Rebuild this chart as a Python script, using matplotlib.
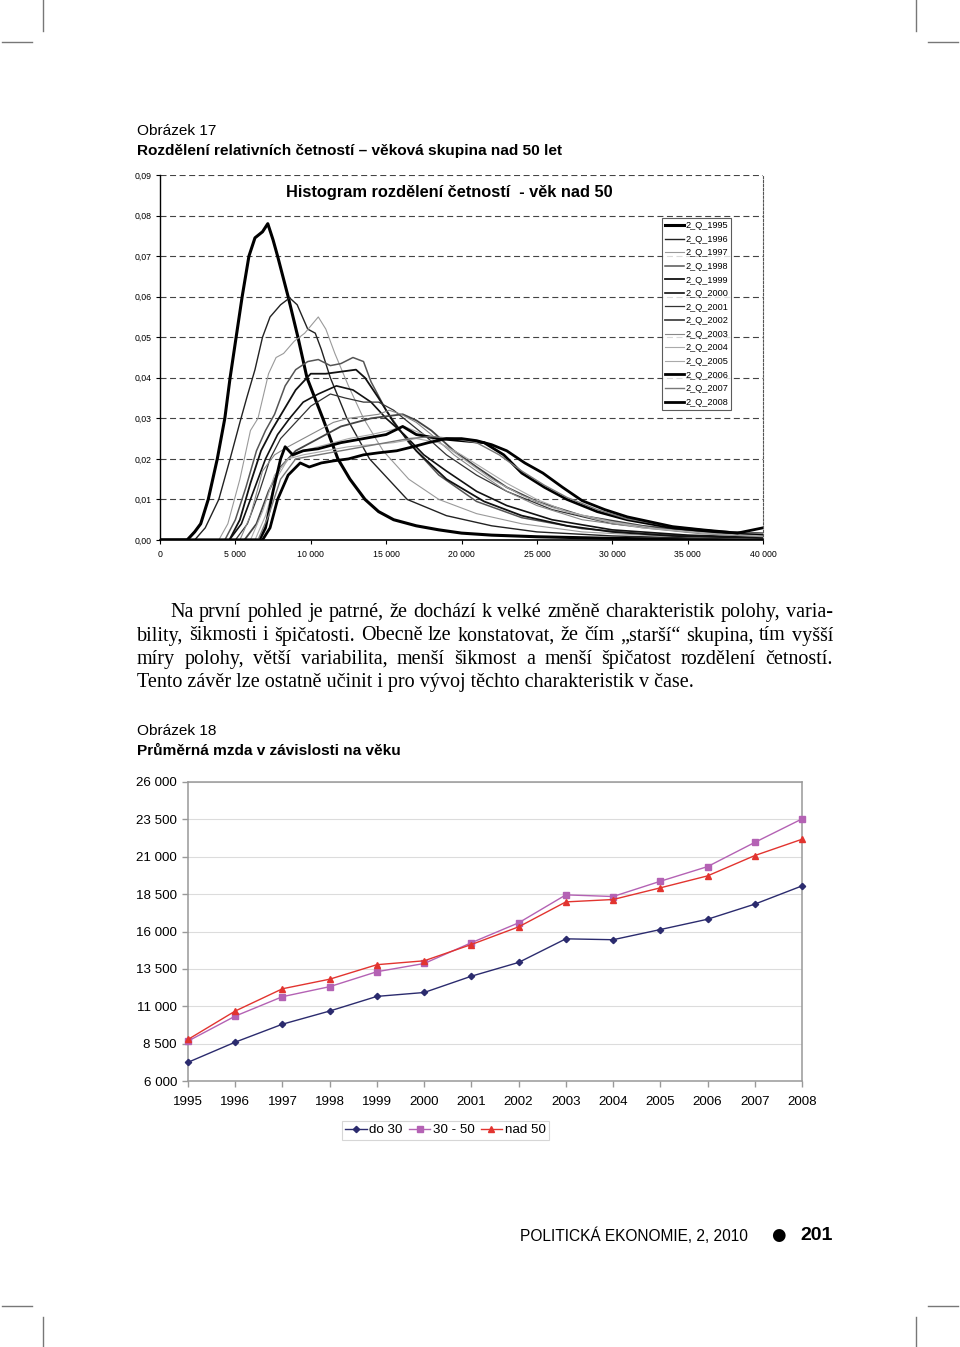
import matplotlib
matplotlib.use("Agg")
import matplotlib.pyplot as plt
from matplotlib.lines import Line2D

W, H = 960, 1347
plt.rcParams['font.family'] = ['Liberation Sans', 'DejaVu Sans']

# ---- Obrazek 17: relative frequencies by wage (CZK), one curve per year ----
x_1995 = [0, 1800, 2300, 2700, 3200, 3800, 4300, 4650, 5050, 5450, 5900, 6300, 6800, 7150, 7500, 7800,
          8500, 9150, 9750, 10800, 11800, 12600, 13600, 14500, 15500, 17000, 18500, 20000, 22000, 25000,
          30000, 35000, 40000]
y_1995 = [0, 0, 0.002, 0.004, 0.010, 0.020, 0.030, 0.040, 0.050, 0.060, 0.070, 0.0745, 0.076, 0.078, 0.074,
          0.070, 0.060, 0.050, 0.040, 0.030, 0.020, 0.015, 0.010, 0.007, 0.005, 0.0035, 0.0025, 0.0017,
          0.0012, 0.0008, 0.0004, 0.0002, 0.0001]
x_1996 = [0, 2300, 3000, 3900, 4650, 5300, 5750, 6300, 6800, 7300, 8000, 8600, 9100, 9800, 10300, 10700,
          11300, 12400, 13900, 16400, 19000, 22000, 25000, 30000, 35000, 40000]
y_1996 = [0, 0, 0.003, 0.010, 0.020, 0.029, 0.035, 0.042, 0.050, 0.055, 0.058, 0.0597, 0.058, 0.052, 0.051,
          0.047, 0.040, 0.030, 0.020, 0.010, 0.006, 0.0035, 0.002, 0.001, 0.0005, 0.0003]
x_1997 = [0, 3900, 4500, 5300, 6000, 6500, 7200, 7700, 8200, 8900, 9600, 10500, 11000, 11600, 12500, 13500,
          14800, 16500, 18500, 21000, 24000, 28000, 32000, 36000, 40000]
y_1997 = [0, 0, 0.004, 0.015, 0.027, 0.030, 0.041, 0.045, 0.046, 0.049, 0.051, 0.055, 0.052, 0.046, 0.038,
          0.030, 0.022, 0.015, 0.010, 0.0065, 0.004, 0.002, 0.0012, 0.0007, 0.0004]
x_1998 = [0, 4300, 5000, 5700, 6400, 7000, 7600, 8300, 9000, 9800, 10500, 11300, 12000, 12800, 13500, 14000,
          15000, 16500, 18500, 21000, 24000, 28000, 32000, 36000, 40000]
y_1998 = [0, 0, 0.005, 0.013, 0.022, 0.027, 0.031, 0.038, 0.042, 0.044, 0.0445, 0.043, 0.0435, 0.045, 0.044,
          0.039, 0.032, 0.024, 0.016, 0.0095, 0.0055, 0.0028, 0.0016, 0.0009, 0.0005]
x_1999 = [0, 4600, 5300, 6000, 6700, 7400, 8200, 9000, 10000, 11000, 12000, 13000, 13600, 14500, 15500,
          17000, 19000, 21500, 24000, 27000, 30000, 34000, 40000]
y_1999 = [0, 0, 0.005, 0.014, 0.022, 0.027, 0.032, 0.037, 0.041, 0.041, 0.0415, 0.042, 0.040, 0.035, 0.029,
          0.022, 0.015, 0.0095, 0.006, 0.0035, 0.002, 0.001, 0.0005]
x_2000 = [0, 4600, 5400, 6200, 7000, 7800, 8600, 9500, 10500, 11700, 12800, 14000, 15000, 16200, 17500,
          19000, 21000, 23000, 26000, 30000, 35000, 40000]
y_2000 = [0, 0, 0.004, 0.012, 0.020, 0.026, 0.030, 0.034, 0.036, 0.038, 0.037, 0.034, 0.030, 0.026, 0.021,
          0.017, 0.012, 0.0085, 0.005, 0.0025, 0.0012, 0.0006]
x_2001 = [0, 5000, 5800, 6600, 7300, 8000, 9000, 10000, 11300, 12300, 13500, 14500, 15500, 16500, 17500,
          19000, 21000, 23000, 26000, 30000, 35000, 40000]
y_2001 = [0, 0, 0.004, 0.012, 0.020, 0.025, 0.029, 0.033, 0.036, 0.035, 0.034, 0.034, 0.032, 0.029, 0.026,
          0.021, 0.016, 0.012, 0.0075, 0.004, 0.002, 0.001]
x_2002 = [0, 5600, 6400, 7200, 8000, 9000, 10000, 11000, 12000, 13000, 14000, 15000, 16100, 17000, 18000,
          19500, 21000, 23000, 25000, 28000, 32000, 36000, 40000]
y_2002 = [0, 0, 0.004, 0.012, 0.018, 0.022, 0.024, 0.026, 0.028, 0.029, 0.030, 0.0305, 0.031, 0.0295, 0.027,
          0.022, 0.018, 0.013, 0.0095, 0.006, 0.0035, 0.002, 0.001]
x_2003 = [0, 5300, 6000, 6800, 7600, 8500, 9500, 10500, 11500, 12500, 13500, 14500, 15200, 16000, 17000,
          18000, 19500, 21000, 23000, 25000, 28000, 32000, 36000, 40000]
y_2003 = [0, 0, 0.006, 0.017, 0.021, 0.023, 0.025, 0.027, 0.029, 0.030, 0.0305, 0.031, 0.032, 0.031, 0.029,
          0.026, 0.021, 0.017, 0.012, 0.0085, 0.005, 0.003, 0.0015, 0.0008]
x_2004 = [0, 6300, 7000, 7700, 8500, 9500, 11000, 12500, 14000, 15500, 17000, 18500, 20000, 21500, 23000,
          25000, 27000, 30000, 33000, 36000, 40000]
y_2004 = [0, 0, 0.006, 0.015, 0.020, 0.021, 0.022, 0.023, 0.0235, 0.024, 0.025, 0.024, 0.021, 0.0175, 0.014,
          0.010, 0.007, 0.0045, 0.0028, 0.0018, 0.001]
x_2005 = [0, 6000, 6800, 7600, 8500, 9500, 11000, 12500, 14000, 15200, 16200, 17500, 19000, 20500, 22000,
          24000, 26000, 29000, 32000, 36000, 40000]
y_2005 = [0, 0, 0.007, 0.016, 0.020, 0.022, 0.0235, 0.025, 0.026, 0.027, 0.028, 0.026, 0.023, 0.019, 0.015,
          0.011, 0.008, 0.005, 0.003, 0.0017, 0.001]
x_2006 = [0, 6600, 7000, 7500, 8000, 8300, 8800, 9500, 10500, 12000, 13500, 15000, 16100, 17000, 18500,
          20000, 21500, 22800, 24000, 25500, 27000, 29000, 31000, 34000, 37000, 40000]
y_2006 = [0, 0, 0.003, 0.012, 0.020, 0.023, 0.021, 0.022, 0.0225, 0.024, 0.025, 0.026, 0.028, 0.026, 0.025,
          0.0245, 0.024, 0.021, 0.0165, 0.013, 0.010, 0.007, 0.005, 0.003, 0.002, 0.0015]
x_2007 = [0, 6500, 7200, 8000, 9000, 10500, 12000, 13500, 15000, 16500, 18000, 19500, 21000, 22500, 24000,
          25500, 27000, 29000, 31000, 34000, 37000, 40000]
y_2007 = [0, 0, 0.006, 0.015, 0.020, 0.021, 0.022, 0.023, 0.024, 0.025, 0.0255, 0.025, 0.024, 0.021, 0.017,
          0.0135, 0.0105, 0.0075, 0.0052, 0.0033, 0.0022, 0.0016]
x_2008 = [0, 6800, 7300, 7800, 8500, 9300, 9900, 10700, 11500, 12500, 13500, 14500, 15700, 16800, 17800,
          19000, 20000, 21000, 22000, 23000, 24200, 25400, 26700, 28000, 29500, 31000, 32500, 34000, 36000,
          38300, 40000]
y_2008 = [0, 0, 0.003, 0.010, 0.016, 0.019, 0.018, 0.019, 0.0195, 0.020, 0.021, 0.0215, 0.022, 0.023, 0.024,
          0.025, 0.025, 0.0245, 0.0235, 0.022, 0.019, 0.0165, 0.013, 0.0097, 0.0075, 0.0057, 0.0045, 0.0033,
          0.0025, 0.0017, 0.003]

hist_years = ['1995', '1996', '1997', '1998', '1999', '2000', '2001', '2002', '2003', '2004', '2005',
              '2006', '2007', '2008']
hist_x = [x_1995, x_1996, x_1997, x_1998, x_1999, x_2000, x_2001, x_2002, x_2003, x_2004, x_2005,
          x_2006, x_2007, x_2008]
hist_y = [y_1995, y_1996, y_1997, y_1998, y_1999, y_2000, y_2001, y_2002, y_2003, y_2004, y_2005,
          y_2006, y_2007, y_2008]
hist_yticks = [0, 0.01, 0.02, 0.03, 0.04, 0.05, 0.06, 0.07, 0.08, 0.09]
hist_xticks = [0, 5000, 10000, 15000, 20000, 25000, 30000, 35000, 40000]

# ---- Obrazek 18: average wage by age group ----
years18 = [1995, 1996, 1997, 1998, 1999, 2000, 2001, 2002, 2003, 2004, 2005, 2006, 2007, 2008]
do30 = [7250, 8600, 9800, 10680, 11660, 11920, 13010, 13930, 15510, 15450, 16130, 16820, 17830, 19050]
s30_50 = [8670, 10340, 11640, 12310, 13310, 13860, 15250, 16580, 18450, 18340, 19360, 20340, 21960, 23530]
nad50 = [8780, 10680, 12170, 12810, 13780, 14040, 15130, 16310, 17980, 18140, 18920, 19720, 21080, 22170]
wage_ticks = [6000, 8500, 11000, 13500, 16000, 18500, 21000, 23500, 26000]

paragraph = [
    "Na první pohled je patrné, že dochází k velké změně charakteristik polohy, varia-",
    "bility, šikmosti i špičatosti. Obecně lze konstatovat, že čím „starší“ skupina, tím vyšší",
    "míry polohy, větší variabilita, menší šikmost a menší špičatost rozdělení četností.",
    "Tento závěr lze ostatně učinit i pro vývoj těchto charakteristik v čase.",
]


def fx(x):
    return x / W


def fy(y):
    return 1 - y / H


def rect(l, t, r, b):
    return [fx(l), fy(b), (r - l) / W, (b - t) / H]


def thousands(v):
    return f"{int(round(v)):,}".replace(",", " ")


fig = plt.figure(figsize=(W / 100, H / 100), dpi=100)
fig.patch.set_facecolor('white')

# crop marks
for (x0, y0, x1, y1) in [(43, 0, 43, 31), (2, 42, 32, 42), (916, 0, 916, 31), (928, 42, 958, 42),
                         (43, 1317, 43, 1347), (2, 1306, 32, 1306), (916, 1317, 916, 1347),
                         (928, 1306, 958, 1306)]:
    fig.add_artist(Line2D([fx(x0), fx(x1)], [fy(y0), fy(y1)], color='#777777', lw=1.0))

# ---------------- figure 17 ----------------
fig.text(fx(137), fy(131), "Obrázek 17", fontsize=11.1, va='center', ha='left')
fig.text(fx(137), fy(151), "Rozdělení relativních četností – věková skupina nad 50 let", fontsize=11.1,
         fontweight='bold', va='center', ha='left')

ax = fig.add_axes(rect(160, 175, 763, 540))
styles = [('#000000', 2.2), ('#222222', 1.0), ('#9a9a9a', 0.8), ('#555555', 1.1), ('#111111', 1.3),
          ('#111111', 1.2), ('#333333', 0.9), ('#444444', 1.3), ('#888888', 0.8), ('#aaaaaa', 0.8),
          ('#aaaaaa', 0.8), ('#000000', 2.0), ('#777777', 1.0), ('#000000', 2.0)]
for yr, xs, ys, (c, lw) in zip(hist_years, hist_x, hist_y, styles):
    ax.plot(xs, ys, color=c, lw=lw, label="2_Q_" + yr, solid_joinstyle='round')
ax.set_xlim(0, 40000)
ax.set_ylim(0, 0.09)
for v in hist_yticks[1:]:
    ax.axhline(v, color='#444444', lw=0.8, ls=(0, (5.4, 3.2)), zorder=0)
ax.set_yticks(hist_yticks)
ax.set_yticklabels([f"{v:.2f}".replace(".", ",") for v in hist_yticks])
ax.set_xticks(hist_xticks)
ax.set_xticklabels([thousands(v) for v in hist_xticks])
ax.tick_params(axis='y', labelsize=6.3, length=3, width=0.8, pad=3)
ax.tick_params(axis='x', labelsize=6.3, length=3, width=0.8, pad=4)
ax.spines['top'].set_visible(False)
ax.spines['right'].set_color('#555555')
ax.spines['right'].set_linewidth(0.8)
ax.spines['right'].set_linestyle((0, (2, 1.5)))
ax.spines['left'].set_linewidth(1.0)
ax.spines['bottom'].set_linewidth(1.2)
ax.set_facecolor('none')
fig.text(fx(449.5), fy(192), "Histogram rozdělení četností  - věk nad 50", fontsize=11.75, fontweight='bold',
         ha='center', va='center')
leg = ax.legend(loc='upper left', bbox_to_anchor=(fx(662), fy(218)), bbox_transform=fig.transFigure,
                fontsize=6.6, frameon=True, fancybox=False, handlelength=2.1, handletextpad=0.1,
                labelspacing=0.5, borderpad=0.35, borderaxespad=0)
leg.get_frame().set_edgecolor('#333333')
leg.get_frame().set_linewidth(0.8)

# ---------------- paragraph ----------------
renderer = fig.canvas.get_renderer()
serif = dict(family=['Liberation Serif', 'DejaVu Serif'], fontsize=14.5)


def measure(s, size):
    t = fig.text(0, 0, s, family=serif['family'], fontsize=size)
    w = t.get_window_extent(renderer=renderer).width
    t.remove()
    return w


def justify(line, x0, x1, ybase, size):
    words = line.split()
    widths = [measure(w, size) for w in words]
    gap = (x1 - x0 - sum(widths)) / (len(words) - 1)
    x = x0
    for w, wd in zip(words, widths):
        fig.text(fx(x), fy(ybase), w, va='baseline', ha='left', family=serif['family'], fontsize=size)
        x += wd + gap


# largest size (up to 14.5 pt) that keeps a visible word gap on the tightest line
size = serif['fontsize']
while size > 11:
    words = paragraph[1].split()
    gap = (833 - 137 - sum(measure(w, size) for w in words)) / (len(words) - 1)
    if gap >= 3.2:
        break
    size -= 0.1

baselines = [617, 640.5, 664, 687.5]
justify(paragraph[0], 170, 833, baselines[0], size)
justify(paragraph[1], 137, 833, baselines[1], size)
justify(paragraph[2], 137, 833, baselines[2], size)
fig.text(fx(137), fy(baselines[3]), paragraph[3], va='baseline', ha='left', family=serif['family'],
         fontsize=size)

# ---------------- figure 18 ----------------
fig.text(fx(137), fy(731), "Obrázek 18", fontsize=11.1, va='center', ha='left')
fig.text(fx(137), fy(751), "Průměrná mzda v závislosti na věku", fontsize=11.1, fontweight='bold',
         va='center', ha='left')

ax2 = fig.add_axes(rect(188, 782, 802, 1081))
ax2.plot(years18, do30, color='#2b2b6e', lw=1.0, marker='D', ms=3.2, label='do 30', clip_on=False, zorder=3)
ax2.plot(years18, s30_50, color='#b462b4', lw=1.0, marker='s', ms=4.2, label='30 - 50', clip_on=False,
         zorder=3)
ax2.plot(years18, nad50, color='#e2342f', lw=1.0, marker='^', ms=5.0, label='nad 50', clip_on=False, zorder=3)
ax2.set_xlim(1995, 2008)
ax2.set_ylim(6000, 26000)
ax2.set_yticks(wage_ticks)
ax2.set_yticklabels([thousands(v) for v in wage_ticks])
ax2.set_xticks(years18)
ax2.set_xticklabels([str(y) for y in years18])
ax2.grid(axis='y', color='#dcdcdc', lw=0.8)
ax2.set_axisbelow(True)
for s in ax2.spines.values():
    s.set_color('#999999')
    s.set_linewidth(1.1)
ax2.tick_params(axis='both', labelsize=9.6, color='#999999', length=4, width=1)
ax2.tick_params(axis='y', pad=4)
ax2.tick_params(axis='x', pad=7)
leg2 = ax2.legend(loc='center', bbox_to_anchor=(fx(445.5), fy(1130)), bbox_transform=fig.transFigure,
                  ncol=3, fontsize=9.6, frameon=True, fancybox=False, handlelength=1.6, handletextpad=0.2,
                  columnspacing=0.45, borderpad=0.25, borderaxespad=0)
leg2.get_frame().set_edgecolor('#cccccc')
leg2.get_frame().set_linewidth(0.8)

# ---------------- footer ----------------
fig.text(fx(748), fy(1236), "POLITICKÁ EKONOMIE, 2, 2010", fontsize=11.2, ha='right', va='center')
fig.text(fx(778), fy(1235), "●", fontsize=12, ha='center', va='center', family=['DejaVu Sans'])
fig.text(fx(833), fy(1236), "201", fontsize=14, fontweight='bold', ha='right', va='center')

fig.savefig('out.png', dpi=100)
